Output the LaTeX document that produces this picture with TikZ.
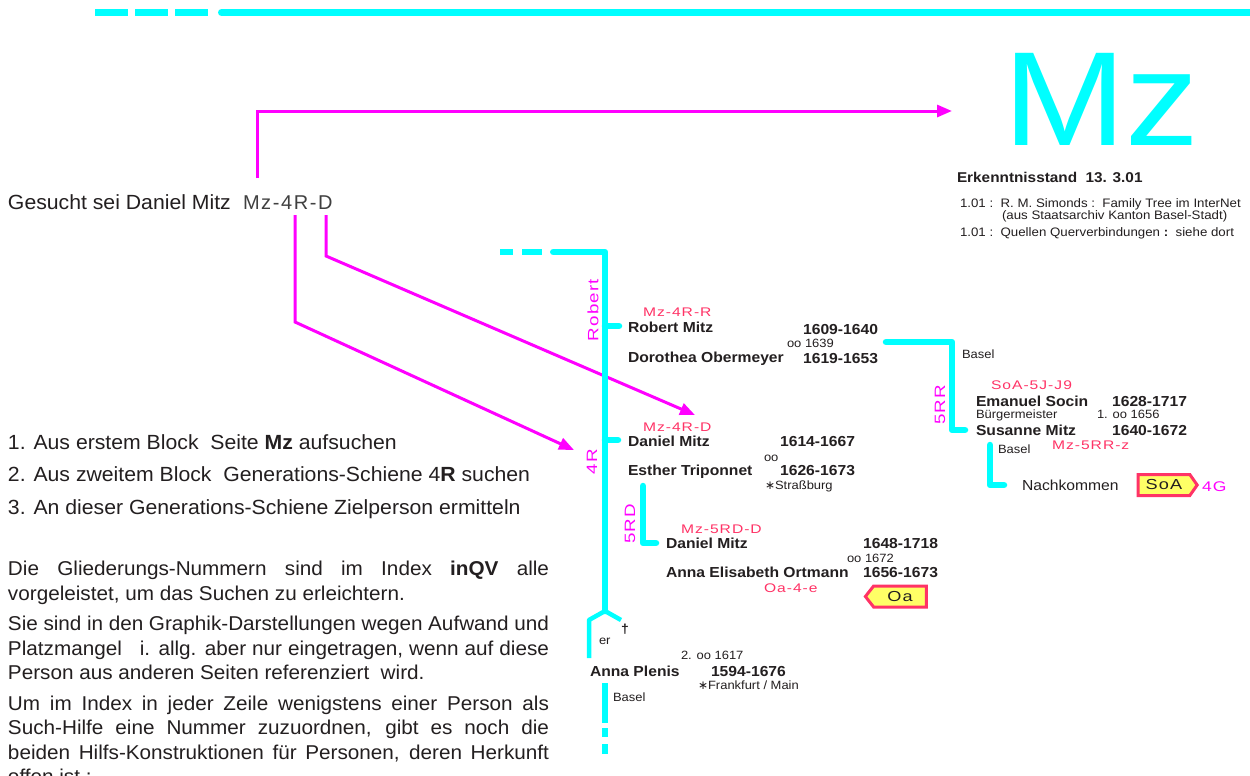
\documentclass[tikz,border=0pt]{standalone}
\usepackage{fontspec}
\setmainfont{Liberation Sans}[FakeStretch=1.08]
\newfontfamily\plainfont{Liberation Sans}[FakeStretch=1.035]
\newfontfamily\bigfont{Liberation Sans}[FakeStretch=1.1]
\newfontfamily\codefont{Liberation Sans}[LetterSpace=8,FakeStretch=1.25]
\newfontfamily\gcodefont{Liberation Sans}[LetterSpace=8]
\newfontfamily\symfont{DejaVu Sans}
\usetikzlibrary{arrows.meta,shapes.symbols}
\definecolor{cy}{HTML}{00FFFF}
\definecolor{mg}{HTML}{FF00FF}
\definecolor{pk}{HTML}{FF3366}
\definecolor{tx}{HTML}{231F20}
\definecolor{gc}{HTML}{404040}
\definecolor{yl}{HTML}{FFFF66}
\begin{document}
\begin{tikzpicture}[x=1pt,y=-1pt,
  every node/.style={inner sep=0pt,outer sep=0pt,text=tx},
  rail/.style={cy,line width=6.5pt},
  forkline/.style={cy,line width=4.5pt},
  ptr/.style={mg,line width=3pt,-{Triangle[length=15pt,width=12pt]}},
  pname/.style={anchor=base west,font=\bfseries\fontsize{14.5}{17}\selectfont},
  pdate/.style={anchor=base east,font=\bfseries\fontsize{14.5}{17}\selectfont},
  pdatew/.style={anchor=base west,font=\bfseries\fontsize{14.5}{17}\selectfont},
  small/.style={anchor=base west,font=\fontsize{12}{14}\selectfont},
  pcode/.style={anchor=base west,text=pk,font=\codefont\fontsize{12.5}{15}\selectfont},
  gen/.style={text=mg,font=\codefont\fontsize{15}{18}\selectfont,rotate=90},
  lefttext/.style={anchor=base west,font=\plainfont\fontsize{20.5}{24}\selectfont},
  pline/.style={anchor=base west,font=\plainfont\fontsize{20}{24}\selectfont},
  tag/.style={signal,draw=pk,line width=3pt,fill=yl,font=\codefont\fontsize{14.5}{16}\selectfont,minimum height=21pt}
]
\path[use as bounding box,fill=white] (0,0) rectangle (1250,776);

% top bar
\draw[cy,line width=7pt,dash pattern=on 33pt off 7pt] (95,12.5) -- (208,12.5);
\draw[cy,line width=7pt,line cap=round] (221.5,12.5) -- (1260,12.5);

% big title
\node[anchor=base west,text=cy,font=\bigfont\fontsize{134}{134}\selectfont] (mz) at (1003,145) {Mz};

% status block
\node[anchor=base west,font=\bfseries\fontsize{14.2}{16}\selectfont] (stand) at (957,182) {Erkenntnisstand\ \ 13. 3.01};
\node[anchor=base west,font=\fontsize{12.3}{14}\selectfont] (src1) at (960,207) {1.01 :\ \ R. M. Simonds :\ \ Family Tree im InterNet};
\node[anchor=base west,font=\fontsize{12.3}{14}\selectfont] (src1b) at (1002,219) {(aus Staatsarchiv Kanton Basel-Stadt)};
\node[anchor=base west,font=\fontsize{12.3}{14}\selectfont] (src2) at (960,236) {1.01 :\ \ Quellen Querverbindungen \textbf{:}\ \ siehe dort};

% search line
\node[lefttext] (gesucht) at (8,209) {Gesucht sei Daniel Mitz};
\node[anchor=base west,text=gc,font=\gcodefont\fontsize{20}{24}\selectfont] (gcode) at (243,209) {Mz-4R-D};

% left instructions
\node[lefttext] (l1) at (8,449) {1. Aus erstem Block\ \ Seite \textbf{Mz} aufsuchen};
\node[lefttext] (l2) at (8,481) {2. Aus zweitem Block\ \ Generations-Schiene 4\textbf{R} suchen};
\node[lefttext] (l3) at (8,514) {3. An dieser Generations-Schiene Zielperson ermitteln};

\node[pline] (p1a) at (8,575) {\makebox[541pt][s]{Die Gliederungs-Nummern sind im Index \textbf{inQV} alle}};
\node[pline] (p1b) at (8,600) {vorgeleistet, um das Suchen zu erleichtern.};
\node[pline] (p2a) at (8,630) {\makebox[541pt][s]{Sie sind in den Graphik-Darstellungen wegen Aufwand und}};
\node[pline] (p2b) at (8,655) {\makebox[541pt][s]{Platzmangel\ \ \ i. allg. aber nur eingetragen, wenn auf diese}};
\node[pline] (p2c) at (8,679) {Person aus anderen Seiten referenziert\ \ wird.};
\node[pline] (p3a) at (8,710) {\makebox[541pt][s]{Um im Index in jeder Zeile wenigstens einer Person als}};
\node[pline] (p3b) at (8,734) {\makebox[541pt][s]{Such-Hilfe eine Nummer zuzuordnen, gibt es noch die}};
\node[pline] (p3c) at (8,759) {\makebox[541pt][s]{beiden Hilfs-Konstruktionen für Personen, deren Herkunft}};
\node[pline] (p3d) at (8,783) {offen ist :};

% magenta pointers
\coordinate (aM) at (257,178);
\coordinate (aMz) at (952,111);
\coordinate (b4) at (295,215);
\coordinate (b4k) at (295,322);
\coordinate (bRail) at (574,450);
\coordinate (cD) at (326,215);
\coordinate (cDk) at (326,256);
\coordinate (cPers) at (695,415);
\draw[ptr] (aM) |- (aMz);
\draw[ptr] (b4) -- (b4k) -- (bRail);
\draw[ptr] (cD) -- (cDk) -- (cPers);

% main rail
\coordinate (rTop) at (605,252);
\coordinate (rFork) at (605,611);
\coordinate (fL) at (589,620);
\coordinate (fLb) at (589,658);
\coordinate (fR) at (621,620);
\draw[rail] (500,252) -- (513,252);
\draw[rail] (522,252) -- (542,252);
\draw[rail,line cap=round,line join=round] (553.25,252) -- (rTop) -- (rFork);
\draw[forkline,line join=round] (fLb) -- (fL) -- (rFork) -- (fR);
\draw[rail] (605,683) -- (605,723);
\draw[rail] (605,728) -- (605,737);
\draw[rail] (605,744) -- (605,754);
\draw[rail,line cap=round] (605,326) -- (619,326);
\draw[rail,line cap=round] (605,440) -- (618,440);

\node[gen] (gRobert) at (593,310) {Robert};
\node[gen] (g4R) at (592,462) {4R};
\node[gen] (g5RD) at (630,524) {5RD};
\node[gen] (g5RR) at (940,405) {5RR};

% generation 4R: Robert
\node[pcode] (cR) at (643,316) {Mz-4R-R};
\node[pname] (robert) at (628,332) {Robert Mitz};
\node[pdate] (robertD) at (878,334) {1609-1640};
\node[small] (m1639) at (787,347) {oo 1639};
\node[pname] (dorothea) at (628,362) {Dorothea Obermeyer};
\node[pdate] (dorotheaD) at (878,363) {1619-1653};

% 5RR branch
\draw[rail,line cap=round,line join=round] (886,342) -- (952,342) -- (952,430) -- (965,430);
\node[small] (basel1) at (962,358) {Basel};
\node[pcode] (cSoA) at (991,389) {SoA-5J-J9};
\node[pname] (emanuel) at (976,406) {Emanuel Socin};
\node[pdate] (emanuelD) at (1187,406) {1628-1717};
\node[small] (bgm) at (976,418) {Bürgermeister};
\node[small] (m1656) at (1097,418) {1. oo 1656};
\node[pname] (susanne) at (976,435) {Susanne Mitz};
\node[pdate] (susanneD) at (1187,435) {1640-1672};
\node[pcode] (cSus) at (1052,449) {Mz-5RR-z};
\draw[rail,line cap=round,line join=round] (990,445) -- (990,485) -- (1004,485);
\node[small] (basel2) at (998,453) {Basel};
\node[anchor=base west,font=\fontsize{14.5}{17}\selectfont] (nach) at (1022,490) {Nachkommen};
\node[tag,signal to=east,signal pointer angle=110,minimum width=59pt] (soa) at (1164,485) {SoA};
\node[anchor=base west,text=mg,font=\codefont\fontsize{14}{16}\selectfont] (g4G) at (1202,491) {4G};

% Daniel 4R
\node[pcode] (cD4) at (643,431) {Mz-4R-D};
\node[pname] (daniel) at (628,446) {Daniel Mitz};
\node[pdate] (danielD) at (855,446) {1614-1667};
\node[small] (moo) at (764,461) {oo};
\node[pname] (esther) at (628,475) {Esther Triponnet};
\node[pdate] (estherD) at (855,475) {1626-1673};
\node[small] (strass) at (765,489) {{\symfont ∗}Straßburg};

% 5RD
\draw[rail,line cap=round,line join=round] (643,486) -- (643,543) -- (656,543);
\node[pcode] (cD5) at (681,533) {Mz-5RD-D};
\node[pname] (daniel2) at (666,548) {Daniel Mitz};
\node[pdate] (daniel2D) at (938,548) {1648-1718};
\node[small] (m1672) at (847,562) {oo 1672};
\node[pname] (anna) at (666,577) {Anna Elisabeth Ortmann};
\node[pdate] (annaD) at (938,577) {1656-1673};
\node[pcode] (cOa) at (764,592) {Oa-4-e};
\node[tag,signal to=west,signal pointer angle=104,minimum width=61pt] (oa) at (900,596.5) {Oa};

% fork and Anna Plenis
\node[anchor=base west,font=\fontsize{12}{14}\selectfont] (er) at (599,644) {er};
\node[anchor=base west,font=\bfseries\fontsize{13}{15}\selectfont] (dagger) at (621,633) {†};
\node[small] (m1617) at (681,659) {2. oo 1617};
\node[pname] (plenis) at (590,676) {Anna Plenis};
\node[pdatew] (plenisD) at (711,676) {1594-1676};
\node[small] (frank) at (698,689) {{\symfont ∗}Frankfurt / Main};
\node[small] (basel3) at (613,701) {Basel};
\end{tikzpicture}
\end{document}
